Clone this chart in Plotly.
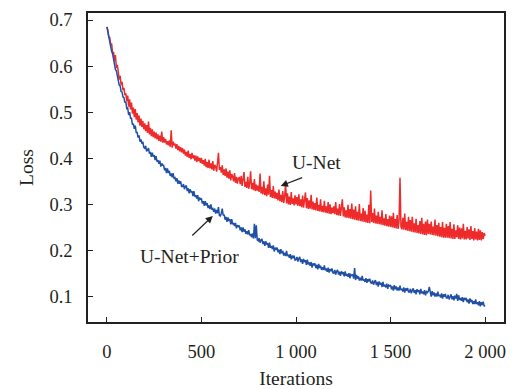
import plotly.graph_objects as go

iterations = list(range(0, 2001, 5))

unet_loss = [
    0.685, 0.678, 0.663, 0.662, 0.646, 0.649, 0.628, 0.631, 0.611, 0.624, 0.596, 0.603, 0.588, 0.571, 0.579, 0.559, 0.566, 0.548, 0.553, 0.537,
    0.541, 0.524, 0.536, 0.512, 0.528, 0.506, 0.521, 0.497, 0.510, 0.489, 0.507, 0.484, 0.498, 0.478, 0.493, 0.471, 0.486, 0.468, 0.481, 0.463,
    0.476, 0.459, 0.472, 0.455, 0.480, 0.452, 0.466, 0.448, 0.463, 0.446, 0.458, 0.443, 0.456, 0.441, 0.452, 0.438, 0.449, 0.436, 0.458, 0.434,
    0.446, 0.434, 0.442, 0.430, 0.437, 0.428, 0.439, 0.425, 0.461, 0.423, 0.436, 0.428, 0.432, 0.421, 0.431, 0.418, 0.427, 0.415, 0.424, 0.413,
    0.422, 0.410, 0.419, 0.406, 0.414, 0.403, 0.417, 0.401, 0.409, 0.398, 0.412, 0.400, 0.407, 0.395, 0.406, 0.392, 0.404, 0.394, 0.401, 0.390,
    0.401, 0.388, 0.396, 0.384, 0.399, 0.381, 0.392, 0.379, 0.397, 0.378, 0.389, 0.376, 0.394, 0.373, 0.386, 0.382, 0.371, 0.391, 0.412, 0.375,
    0.381, 0.369, 0.385, 0.364, 0.376, 0.362, 0.378, 0.358, 0.371, 0.356, 0.374, 0.352, 0.366, 0.361, 0.350, 0.368, 0.347, 0.360, 0.345, 0.357,
    0.358, 0.344, 0.362, 0.340, 0.351, 0.370, 0.338, 0.349, 0.336, 0.360, 0.334, 0.346, 0.372, 0.333, 0.347, 0.331, 0.355, 0.329, 0.343, 0.330,
    0.341, 0.327, 0.367, 0.324, 0.338, 0.322, 0.350, 0.320, 0.335, 0.318, 0.343, 0.321, 0.362, 0.316, 0.331, 0.314, 0.340, 0.313, 0.328, 0.312,
    0.325, 0.309, 0.332, 0.307, 0.321, 0.305, 0.329, 0.303, 0.318, 0.343, 0.302, 0.324, 0.300, 0.317, 0.299, 0.327, 0.301, 0.313, 0.298, 0.320,
    0.300, 0.316, 0.297, 0.322, 0.296, 0.311, 0.294, 0.319, 0.293, 0.308, 0.326, 0.292, 0.314, 0.290, 0.309, 0.291, 0.321, 0.289, 0.306, 0.288,
    0.303, 0.287, 0.315, 0.286, 0.299, 0.285, 0.311, 0.284, 0.297, 0.283, 0.308, 0.282, 0.296, 0.281, 0.305, 0.280, 0.300, 0.279, 0.293, 0.281,
    0.296, 0.279, 0.305, 0.277, 0.291, 0.276, 0.301, 0.275, 0.288, 0.311, 0.274, 0.294, 0.272, 0.287, 0.271, 0.299, 0.270, 0.290, 0.269, 0.302,
    0.268, 0.289, 0.267, 0.296, 0.266, 0.284, 0.265, 0.301, 0.264, 0.280, 0.263, 0.292, 0.262, 0.286, 0.261, 0.278, 0.260, 0.299, 0.259, 0.330,
    0.262, 0.281, 0.260, 0.291, 0.259, 0.276, 0.258, 0.284, 0.257, 0.273, 0.256, 0.287, 0.255, 0.270, 0.254, 0.279, 0.253, 0.268, 0.252, 0.276,
    0.251, 0.274, 0.250, 0.282, 0.249, 0.268, 0.248, 0.277, 0.247, 0.264, 0.358, 0.252, 0.246, 0.271, 0.245, 0.280, 0.244, 0.262, 0.243, 0.273,
    0.242, 0.266, 0.241, 0.273, 0.240, 0.259, 0.239, 0.269, 0.238, 0.255, 0.237, 0.264, 0.236, 0.271, 0.235, 0.258, 0.234, 0.263, 0.233, 0.267,
    0.236, 0.258, 0.235, 0.263, 0.234, 0.252, 0.233, 0.267, 0.232, 0.255, 0.231, 0.260, 0.230, 0.251, 0.229, 0.262, 0.228, 0.249, 0.228, 0.258,
    0.228, 0.253, 0.227, 0.262, 0.226, 0.247, 0.225, 0.257, 0.225, 0.244, 0.229, 0.255, 0.225, 0.250, 0.224, 0.248, 0.226, 0.258, 0.224, 0.243,
    0.224, 0.251, 0.226, 0.246, 0.223, 0.253, 0.225, 0.242, 0.222, 0.249, 0.224, 0.241, 0.222, 0.247, 0.223, 0.244, 0.222, 0.240, 0.225, 0.238,
    0.232,
]

prior_loss = [
    0.685, 0.673, 0.666, 0.652, 0.646, 0.632, 0.627, 0.612, 0.607, 0.593, 0.590, 0.576, 0.572, 0.559, 0.557, 0.545, 0.544, 0.533, 0.532, 0.521,
    0.523, 0.508, 0.509, 0.494, 0.500, 0.487, 0.487, 0.473, 0.475, 0.464, 0.471, 0.456, 0.456, 0.445, 0.450, 0.436, 0.441, 0.432, 0.436, 0.424,
    0.422, 0.427, 0.415, 0.420, 0.422, 0.410, 0.414, 0.403, 0.412, 0.404, 0.407, 0.396, 0.405, 0.393, 0.396, 0.388, 0.395, 0.382, 0.389, 0.385,
    0.385, 0.374, 0.379, 0.368, 0.378, 0.368, 0.373, 0.362, 0.367, 0.359, 0.368, 0.356, 0.358, 0.350, 0.357, 0.345, 0.352, 0.345, 0.350, 0.339,
    0.339, 0.344, 0.333, 0.339, 0.341, 0.329, 0.335, 0.324, 0.333, 0.326, 0.329, 0.318, 0.329, 0.317, 0.320, 0.313, 0.320, 0.307, 0.315, 0.311,
    0.312, 0.302, 0.307, 0.297, 0.307, 0.298, 0.303, 0.292, 0.298, 0.290, 0.300, 0.289, 0.291, 0.284, 0.291, 0.280, 0.288, 0.281, 0.294, 0.276,
    0.275, 0.281, 0.291, 0.276, 0.278, 0.267, 0.273, 0.262, 0.272, 0.264, 0.268, 0.257, 0.268, 0.257, 0.260, 0.253, 0.260, 0.248, 0.255, 0.252,
    0.254, 0.244, 0.250, 0.240, 0.250, 0.241, 0.246, 0.236, 0.242, 0.235, 0.244, 0.233, 0.236, 0.229, 0.237, 0.226, 0.258, 0.227, 0.255, 0.223,
    0.221, 0.227, 0.217, 0.223, 0.225, 0.214, 0.220, 0.210, 0.220, 0.213, 0.216, 0.206, 0.217, 0.206, 0.210, 0.203, 0.211, 0.198, 0.206, 0.203,
    0.206, 0.196, 0.202, 0.192, 0.203, 0.194, 0.199, 0.189, 0.195, 0.188, 0.199, 0.188, 0.191, 0.184, 0.192, 0.181, 0.189, 0.183, 0.189, 0.179,
    0.180, 0.186, 0.176, 0.183, 0.186, 0.175, 0.181, 0.171, 0.182, 0.175, 0.179, 0.169, 0.180, 0.170, 0.174, 0.167, 0.175, 0.163, 0.172, 0.169,
    0.172, 0.162, 0.169, 0.159, 0.171, 0.162, 0.167, 0.158, 0.164, 0.158, 0.168, 0.157, 0.161, 0.154, 0.163, 0.152, 0.160, 0.155, 0.161, 0.152,
    0.151, 0.158, 0.148, 0.155, 0.158, 0.148, 0.154, 0.145, 0.155, 0.149, 0.153, 0.144, 0.155, 0.145, 0.149, 0.143, 0.151, 0.140, 0.148, 0.146,
    0.148, 0.139, 0.162, 0.136, 0.147, 0.139, 0.144, 0.135, 0.141, 0.135, 0.145, 0.135, 0.138, 0.132, 0.140, 0.130, 0.138, 0.133, 0.139, 0.130,
    0.129, 0.135, 0.126, 0.132, 0.136, 0.125, 0.132, 0.122, 0.133, 0.126, 0.130, 0.121, 0.132, 0.122, 0.126, 0.120, 0.128, 0.117, 0.125, 0.123,
    0.125, 0.116, 0.122, 0.113, 0.125, 0.116, 0.122, 0.113, 0.120, 0.113, 0.124, 0.114, 0.117, 0.111, 0.120, 0.109, 0.118, 0.113, 0.119, 0.110,
    0.110, 0.117, 0.107, 0.114, 0.118, 0.108, 0.114, 0.105, 0.116, 0.110, 0.114, 0.105, 0.117, 0.107, 0.111, 0.105, 0.114, 0.103, 0.111, 0.109,
    0.112, 0.121, 0.109, 0.100, 0.112, 0.103, 0.109, 0.100, 0.107, 0.100, 0.111, 0.101, 0.104, 0.098, 0.107, 0.096, 0.105, 0.100, 0.106, 0.097,
    0.097, 0.104, 0.094, 0.101, 0.105, 0.094, 0.101, 0.092, 0.102, 0.096, 0.106, 0.091, 0.103, 0.093, 0.097, 0.091, 0.099, 0.088, 0.097, 0.094,
    0.097, 0.088, 0.094, 0.085, 0.096, 0.088, 0.093, 0.084, 0.090, 0.084, 0.094, 0.084, 0.088, 0.081, 0.090, 0.079, 0.088, 0.082, 0.089, 0.079,
    0.081,
]

x_tick_vals = [0, 500, 1000, 1500, 2000]
x_tick_text = ["0", "500", "1 000", "1 500", "2 000"]
y_tick_vals = [0.1, 0.2, 0.3, 0.4, 0.5, 0.6, 0.7]
y_tick_text = ["0.1", "0.2", "0.3", "0.4", "0.5", "0.6", "0.7"]

RED = "#ee2a2a"
BLUE = "#1f4fa6"
INK = "#231f20"
FONT = "Liberation Serif"

fig = go.Figure()
fig.add_trace(go.Scatter(x=iterations, y=unet_loss, mode="lines", name="U-Net",
                         line=dict(color=RED, width=1.5)))
fig.add_trace(go.Scatter(x=iterations, y=prior_loss, mode="lines", name="U-Net+Prior",
                         line=dict(color=BLUE, width=1.5)))

axis_common = dict(
    showgrid=False, zeroline=False, showline=True, linecolor=INK, linewidth=1.5,
    mirror=True, ticks="inside", ticklen=5, tickwidth=1.2, tickcolor=INK,
    tickfont=dict(family=FONT, size=18.5, color=INK), automargin=False,
)

fig.update_xaxes(range=[-100, 2100], tickvals=x_tick_vals, ticktext=x_tick_text,
                 ticklabelstandoff=12,
                 title=dict(text="Iterations", font=dict(family=FONT, size=19.5, color=INK),
                            standoff=11),
                 **axis_common)
fig.update_yaxes(range=[0.045, 0.7152], tickvals=y_tick_vals, ticktext=y_tick_text,
                 ticklabelstandoff=10,
                 title=dict(text="Loss", font=dict(family=FONT, size=19.5, color=INK),
                            standoff=11),
                 **axis_common)

ann_font = dict(family=FONT, size=19.5, color=INK)
fig.add_annotation(x=1110, y=0.392, text="U-Net", showarrow=False, font=ann_font)
fig.add_annotation(x=919, y=0.340, text="", showarrow=True, ax=23, ay=-9,
                   arrowhead=2, arrowsize=1.2, arrowwidth=1.2, arrowcolor=INK)
fig.add_annotation(x=439, y=0.188, text="U-Net+Prior", showarrow=False, font=ann_font)
fig.add_annotation(x=560, y=0.275, text="", showarrow=True, ax=-22, ay=21,
                   arrowhead=2, arrowsize=1.2, arrowwidth=1.2, arrowcolor=INK)

# the page body has an 8px default margin, so the figure is sized and padded to
# land the plot area where the reference has it
fig.update_layout(
    width=506, height=381,
    margin=dict(l=80, r=10, t=5, b=67),
    paper_bgcolor="white", plot_bgcolor="white",
    showlegend=False,
    font=dict(family=FONT, color=INK),
)

fig.write_html("out.html")
